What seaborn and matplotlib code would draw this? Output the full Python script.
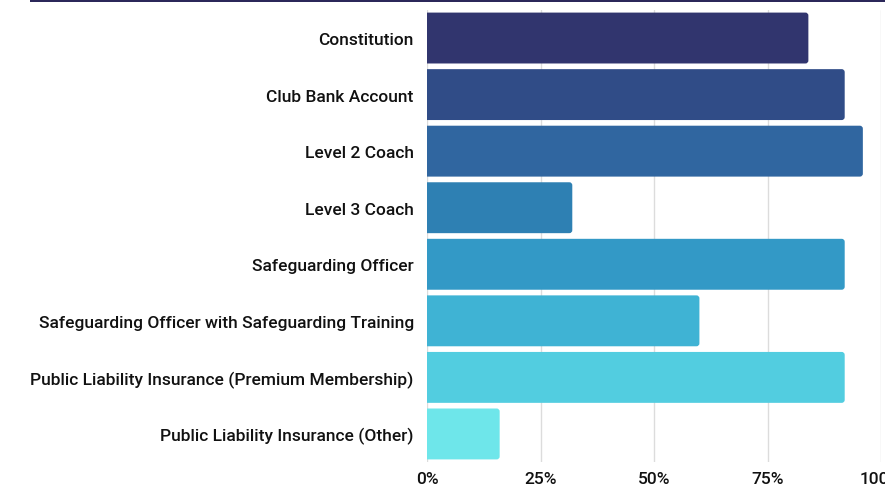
import pandas as pd
import matplotlib.pyplot as plt
import seaborn as sns
from matplotlib.patches import FancyBboxPatch, Rectangle
from matplotlib.ticker import FuncFormatter

categories = [
    "Constitution",
    "Club Bank Account",
    "Level 2 Coach",
    "Level 3 Coach",
    "Safeguarding Officer",
    "Safeguarding Officer with Safeguarding Training",
    "Public Liability Insurance (Premium Membership)",
    "Public Liability Insurance (Other)",
]
percent = [84, 92, 96, 32, 92, 60, 92, 16]
colors = ["#31356e", "#304c87", "#3066a0", "#2e80b3",
          "#3399c6", "#3fb3d4", "#52cde0", "#6ee6ea"]

df = pd.DataFrame({"item": categories, "pct": percent})

sns.set_style("white")
plt.rcParams["font.family"] = ["Roboto", "DejaVu Sans"]

fig = plt.figure(figsize=(8.85, 4.89), dpi=100)
ax = fig.add_axes([0.4825, 0.0527, 0.513, 0.9253])

sns.barplot(data=df, x="pct", y="item", hue="item", palette=colors,
            orient="h", width=0.9, saturation=1, legend=False, ax=ax, zorder=2)

# rounded right-hand corners; left corners pushed past x=0 and clipped
aspect = (1 / 56.5) / (100 / 454)
r = 3 * 100 / 454
for p in list(ax.patches):
    x0, y0, w, h = p.get_x(), p.get_y(), p.get_width(), p.get_height()
    c = p.get_facecolor()
    p.set_visible(False)
    ax.add_patch(FancyBboxPatch((x0 - 3 * r, y0), w + 3 * r, h,
                                boxstyle=f"round,pad=0,rounding_size={r}",
                                mutation_aspect=aspect, fc=c, ec="none", zorder=2))

ax.set_xlim(0, 100)
ax.set_xticks([0, 25, 50, 75, 100])
ax.xaxis.set_major_formatter(FuncFormatter(lambda v, _: f"{v:.0f}%"))
ax.grid(axis="x", color="#dcdcdc", linewidth=1, zorder=0)
ax.set_axisbelow(True)
for s in ax.spines.values():
    s.set_visible(False)
ax.tick_params(axis="both", length=0, labelsize=12.5, labelcolor="#111111")
ax.tick_params(axis="x", pad=6)
ax.tick_params(axis="y", pad=9.5)
for t in ax.get_xticklabels() + ax.get_yticklabels():
    t.set_fontweight("medium")
ax.set_xlabel("")
ax.set_ylabel("")

fig.add_artist(Rectangle((30 / 885, 1 - 3 / 489), 1, 3 / 489,
                         transform=fig.transFigure, fc="#2b2759", ec="none"))

fig.savefig("out.png", dpi=100)
